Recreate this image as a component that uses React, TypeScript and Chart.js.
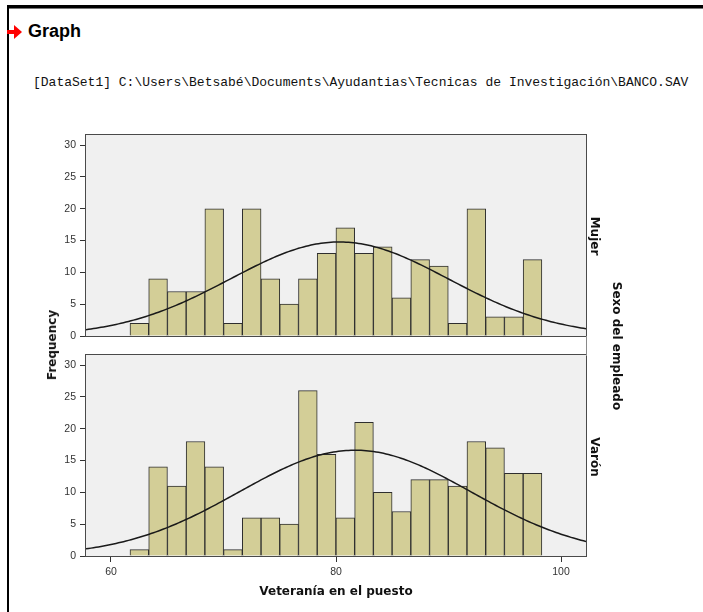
import React, { useEffect, useRef } from "react";
import { Chart, registerables } from "chart.js";

Chart.register(...registerables);

// ---- data ----
const binStart = 61.69;
const binWidth = 1.664;
const mujerCounts = [2, 9, 7, 7, 20, 2, 20, 9, 5, 9, 13, 17, 13, 14, 6, 12, 11, 2, 20, 3, 3, 12];
const varonCounts = [1, 14, 11, 18, 14, 1, 6, 6, 5, 26, 16, 6, 21, 10, 7, 12, 12, 11, 18, 17, 13, 13];
const mujerMean = 80.3;
const mujerSd = 9.7;
const varonMean = 81.7;
const varonSd = 10.3;
const xTicks = [60, 80, 100];
const yTicks = [0, 5, 10, 15, 20, 25, 30];
const xMin = 57.78;
const xMax = 102.22;
const yMax = 31.6;

const BAR_FILL = "#d3ce97";
const BAR_EDGE = "#2e2e2e";
const PANEL_BG = "#f0f0f0";
const FRAME = "#4a4a4a";

const framePlugin = {
  id: "panelFrame",
  beforeDraw(chart: any) {
    const { ctx, chartArea: a } = chart;
    ctx.save();
    ctx.fillStyle = PANEL_BG;
    ctx.fillRect(a.left, a.top, a.right - a.left, a.bottom - a.top);
    ctx.restore();
  },
  afterDraw(chart: any) {
    const { ctx, chartArea: a } = chart;
    ctx.save();
    ctx.strokeStyle = FRAME;
    ctx.lineWidth = 1;
    const l = Math.round(a.left) - 0.5;
    const r = Math.round(a.right) + 0.5;
    const t = Math.round(a.top) - 0.5;
    const b = Math.round(a.bottom) + 0.5;
    ctx.strokeRect(l, t, r - l, b - t);
    ctx.restore();
  },
};

function makePanel(canvas: HTMLCanvasElement, counts: number[], mean: number, sd: number, showX: boolean) {
  const bars = counts.map((c, i) => ({ x: binStart + binWidth * (i + 0.5), y: c }));
  const n = counts.reduce((s, v) => s + v, 0);
  const k = (n * binWidth) / (sd * Math.sqrt(2 * Math.PI));
  const curve: { x: number; y: number }[] = [];
  for (let i = 0; i <= 200; i++) {
    const x = xMin + ((xMax - xMin) * i) / 200;
    curve.push({ x, y: k * Math.exp(-((x - mean) * (x - mean)) / (2 * sd * sd)) });
  }
  const tickFont = { family: "'Liberation Sans', Arial, sans-serif", size: 10.5 };
  return new Chart(canvas, {
    type: "bar",
    data: {
      datasets: [
        {
          type: "line",
          data: curve,
          borderColor: "#1a1a1a",
          borderWidth: 1.5,
          pointRadius: 0,
          fill: false,
          tension: 0,
          order: 0,
        } as any,
        {
          type: "bar",
          data: bars,
          backgroundColor: BAR_FILL,
          borderColor: BAR_EDGE,
          borderWidth: 1,
          borderSkipped: "start",
          barPercentage: 1,
          categoryPercentage: 1,
          order: 1,
        } as any,
      ],
    },
    options: {
      animation: false,
      responsive: false,
      maintainAspectRatio: false,
      devicePixelRatio: 1,
      layout: { padding: { left: 0, right: 14, top: 15, bottom: showX ? 26 : 14 } },
      plugins: { legend: { display: false }, tooltip: { enabled: false } },
      scales: {
        x: {
          type: "linear",
          min: xMin,
          max: xMax,
          offset: false,
          display: showX,
          afterBuildTicks: (s: any) => {
            s.ticks = xTicks.map((v) => ({ value: v }));
          },
          afterFit: (s: any) => {
            s.height = showX ? 30 : 0;
          },
          grid: { display: true, drawOnChartArea: false, drawTicks: true, tickLength: 6, color: "#333", offset: false },
          border: { display: false },
          ticks: { color: "#333", font: tickFont, padding: 4, maxRotation: 0, autoSkip: false },
        },
        y: {
          type: "linear",
          min: 0,
          max: yMax,
          afterBuildTicks: (s: any) => {
            s.ticks = yTicks.map((v) => ({ value: v }));
          },
          afterFit: (s: any) => {
            s.width = 86;
          },
          grid: { display: true, drawOnChartArea: false, drawTicks: true, tickLength: 6, color: "#333" },
          border: { display: false },
          ticks: { color: "#333", font: tickFont, padding: 4, autoSkip: false },
        },
      },
    } as any,
    plugins: [framePlugin],
  });
}

const titleFont: React.CSSProperties = {
  fontFamily: "'DejaVu Sans', sans-serif",
  fontWeight: "bold",
  fontSize: 12,
  color: "#111",
  whiteSpace: "nowrap",
  position: "absolute",
  lineHeight: 1,
};

function centered(x: number, y: number, rot: number): React.CSSProperties {
  return {
    ...titleFont,
    left: x,
    top: y,
    transform: `translate(-50%, -50%) rotate(${rot}deg)`,
  };
}

export default function App() {
  const topRef = useRef<HTMLCanvasElement>(null);
  const botRef = useRef<HTMLCanvasElement>(null);

  useEffect(() => {
    const c1 = makePanel(topRef.current!, mujerCounts, mujerMean, mujerSd, false);
    const c2 = makePanel(botRef.current!, varonCounts, varonMean, varonSd, true);
    return () => {
      c1.destroy();
      c2.destroy();
    };
  }, []);

  return (
    <div style={{ position: "absolute", left: 0, top: 0, width: 703, height: 612, overflow: "hidden", background: "#fff" }}>
      {/* window frame */}
      <div style={{ position: "absolute", left: 7, top: 5, width: 696, height: 3, background: "#000" }} />
      <div style={{ position: "absolute", left: 7, top: 8, width: 696, height: 1, background: "#777" }} />
      <div style={{ position: "absolute", left: 7, top: 5, width: 2, height: 607, background: "#000" }} />

      {/* heading */}
      <svg style={{ position: "absolute", left: 6, top: 25 }} width={18} height={14}>
        <rect x={1} y={5} width={8} height={4} fill="#ff0000" />
        <polygon points="8,0 16,7 8,14" fill="#ff0000" />
      </svg>
      <div
        style={{
          position: "absolute",
          left: 28,
          top: 20,
          fontFamily: "'Liberation Sans', Arial, sans-serif",
          fontWeight: "bold",
          fontSize: 18,
          lineHeight: "22px",
          color: "#000",
        }}
      >
        Graph
      </div>
      <div
        style={{
          position: "absolute",
          left: 33,
          top: 75,
          fontFamily: "'Liberation Mono', 'Courier New', monospace",
          fontSize: 13,
          lineHeight: "16px",
          color: "#111",
          whiteSpace: "nowrap",
        }}
      >
        [DataSet1] C:\Users\Betsabé\Documents\Ayudantias\Tecnicas de Investigación\BANCO.SAV
      </div>

      {/* panels */}
      <canvas ref={topRef} width={600} height={230} style={{ position: "absolute", left: 0, top: 120, width: 600, height: 230 }} />
      <canvas ref={botRef} width={600} height={272} style={{ position: "absolute", left: 0, top: 340, width: 600, height: 272 }} />
      <div style={{ position: "absolute", left: 586, top: 336, width: 1, height: 20, background: "#8a8a8a" }} />

      {/* titles */}
      <div style={centered(52, 345, -90)}>Frequency</div>
      <div style={centered(336, 591, 0)}>Veteranía en el puesto</div>
      <div style={centered(595, 236, 90)}>Mujer</div>
      <div style={centered(595, 457, 90)}>Varón</div>
      <div style={centered(617, 346, 90)}>Sexo del empleado</div>
    </div>
  );
}
